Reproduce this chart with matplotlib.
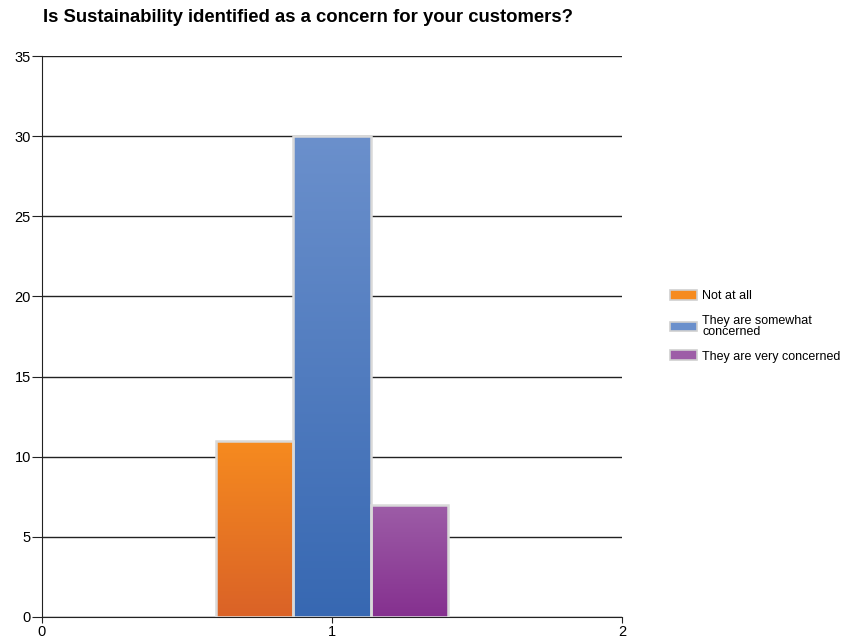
import numpy as np
import matplotlib
matplotlib.use('Agg')
import matplotlib.pyplot as plt
from matplotlib.colors import LinearSegmentedColormap
from matplotlib.patches import Patch

plt.rcParams['font.family'] = ['Liberation Sans', 'DejaVu Sans']

title = 'Is Sustainability identified as a concern for your customers?'
categories = ['Not at all', 'They are somewhat\nconcerned', 'They are very concerned']
values = [11, 30, 7]
# (top colour, bottom colour) for the gradient fill
grads = [('#F68B1F', '#DA6227'), ('#6B90CC', '#3768B2'), ('#9D5DA7', '#85308F')]
group_x = 1

fig = plt.figure(figsize=(8.44, 6.42), dpi=100)
ax = fig.add_axes([42/844, 1-617/642, 580/844, 561/642])

width = 0.8 / len(values)
for i, (v, (ctop, cbot)) in enumerate(zip(values, grads)):
    x0 = group_x - 0.4 + i * width
    bar = ax.bar(x0, v, width=width, align='edge', color='none',
                 edgecolor='#D9D9D9', linewidth=1.8, zorder=3)[0]
    cmap = LinearSegmentedColormap.from_list('g%d' % i, [cbot, ctop])
    grad = np.linspace(0, 1, 256).reshape(-1, 1)
    im = ax.imshow(grad, cmap=cmap, origin='lower', aspect='auto',
                   extent=[x0, x0 + width, 0, v], zorder=2)
    im.set_clip_path(bar)

ax.set_xlim(0, 2)
ax.set_ylim(0, 35)
ax.set_yticks(range(0, 36, 5))
ax.set_xticks([0, 1, 2])
ax.grid(axis='y', color='#222222', linewidth=1.0, zorder=1)
ax.set_axisbelow(True)
for s in ['top', 'right']:
    ax.spines[s].set_visible(False)
ax.spines['left'].set_color('#222222')
ax.spines['bottom'].set_color('#222222')
ax.tick_params(axis='y', labelsize=10.5, length=7.5, color='#222222', pad=0.5)
ax.tick_params(axis='x', labelsize=10.5, length=4, color='#222222', pad=1.5)

fig.text(43/844, 1-18/642, title, fontsize=13.3, fontweight='bold', va='center', ha='left')

handles = [Patch(facecolor=c[0], edgecolor='#D0D0D0', linewidth=1.2) for c in grads]
leg = fig.legend(handles, categories, loc='upper left', bbox_to_anchor=(659/844, 1-279/642),
                 frameon=False, fontsize=9, handlelength=2.1, handleheight=0.8,
                 labelspacing=1.0, handletextpad=0.45)
for t in leg.get_texts():
    t.set_linespacing(0.9)

fig.savefig('out.png', dpi=100)
